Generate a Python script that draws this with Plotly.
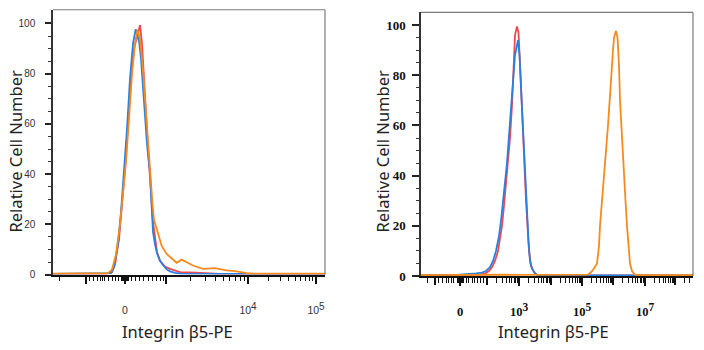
import numpy as np
import plotly.graph_objects as go

# ---------------- data (display-channel units, 0-272 across each plot) ----------------
# Left panel
L_orange_x = [0, 47, 55, 59, 63, 67, 70, 73, 76, 79, 82, 84.5, 87, 89, 90.3, 92, 93.7, 95.5, 97, 98,
              99.5, 101, 103.7, 108.7, 113.7, 118.7, 123.7, 128.7, 133.7, 140, 150, 157, 162, 173.7,
              183.7, 193.7, 202, 272]
L_orange_y = [0.4, 0.4, 0.6, 2, 8, 20, 32, 45, 62, 80, 92, 97.5, 94, 86, 80, 70, 60, 50, 44, 38,
              28, 21.8, 17.9, 11.4, 8.2, 6.6, 4.7, 5.95, 4.9, 3.6, 2.3, 2.6, 2.6, 1.7,
              1.3, 0.6, 0.4, 0.4]

L_blue_x = [0, 52, 58, 61, 65, 68, 71, 74, 77, 80, 82.7, 84.5, 86, 88, 90, 92, 94, 96, 97, 98, 99, 100,
            102, 104, 107, 110.3, 114, 117, 122, 127, 137, 272]
L_blue_y = [0.3, 0.3, 0.6, 3, 12, 25, 40, 58, 78, 92, 97.7, 95, 93, 86, 74, 62, 52, 44, 41, 32, 22, 17,
            12, 8.5, 5.5, 3.6, 2, 1.3, 0.7, 0.4, 0.3, 0.3]

L_red_x = [0, 53, 59, 62, 66, 69, 72, 75, 78, 81, 84, 87, 89, 91, 93, 95, 97, 98.5, 100, 102, 104, 107,
           112, 117, 122, 127, 137, 147, 154, 167, 272]
L_red_y = [0.3, 0.3, 0.9, 4, 14, 27, 42, 60, 78, 90, 95, 99.3, 92, 80, 64, 50, 40, 30, 21, 14, 9, 5.5,
           3.2, 2.3, 1.6, 1.0, 0.85, 0.7, 0.4, 0.3, 0.3]

# Right panel
R_orange_x = [0, 164, 167, 170, 173, 176, 178, 179, 181, 184, 186, 187, 189, 190, 192, 193, 195, 196.5,
              198, 199, 200, 202, 203, 204.5, 206, 207.5, 209, 211, 214, 219, 272]
R_orange_y = [0.4, 0.4, 0.6, 1.5, 3, 5, 12, 20, 30, 42, 52, 60, 72, 80, 90, 95, 97.7, 95,
              84, 70, 62, 45, 40, 30, 20, 11, 5, 2, 0.5, 0.4, 0.4]

R_red_x = [0, 49, 54, 59, 64, 68, 71, 74, 77, 79, 81, 83, 85, 87, 89, 91, 92.5, 94, 96, 97.5, 99, 100.5,
           102, 103.5, 105, 106.5, 108, 110, 113, 116, 272]
R_red_y = [0.3, 0.3, 0.4, 0.6, 1, 2, 3.5, 6, 10, 15, 20, 28, 36, 45, 55, 68, 82, 96, 99.5, 97, 85, 70,
           55, 42, 30, 20, 10, 4, 1.5, 0.4, 0.3]

R_blue_x = [0, 34, 37, 39, 49, 55, 61, 65, 69, 72, 75, 78, 80, 82, 84, 86, 88, 90, 92, 94, 97, 98.5, 100,
            101.5, 103, 104.5, 106, 107.5, 109, 111, 114, 117, 272]
R_blue_y = [0.25, 0.25, 0.45, 0.6, 0.8, 1.1, 1.4, 2, 3.5, 6, 10, 16, 22, 29, 37, 45, 56, 66, 78, 88, 94,
            88, 75, 62, 48, 36, 24, 14, 6, 3, 1, 0.3, 0.25]

# Tick positions / labels (display-channel units)
L_labeled = [72, 195, 263]
L_labels = ["0", "10<sup>4</sup>", "10<sup>5</sup>"]
L_unlabeled_major = [33, 113]
L_decades = [113, 195, 263]
L_minor_near0 = [6, 36, 40, 44, 47, 49, 51, 55, 59, 62, 65, 68, 69, 70, 71, 73, 74, 75,
                 78, 82, 86, 90, 95, 99, 103, 107, 110]

R_labeled = [39, 98, 161, 224]
R_labels = ["0", "10<sup>3</sup>", "10<sup>5</sup>", "10<sup>7</sup>"]
R_unlabeled_major = [14, 66, 130, 192, 254]
R_decades = [66, 98, 130, 161, 192, 224, 254, 285]
R_minor_near0 = [6, 17, 21, 25, 27, 30, 32, 36, 37, 38, 40, 41, 42, 45, 47, 51, 53, 56, 59, 62]

y_major = [0, 20, 40, 60, 80, 100]
y_major_text = ["0", "20", "40", "60", "80", "100"]

RED = "#ec4a4f"
BLUE = "#2a7fdf"
ORANGE = "#f68a1f"


def log_minors(decades, upper):
    out = []
    for a, b in zip(decades[:-1], decades[1:]):
        w = b - a
        for k in range(2, 10):
            p = a + w * np.log10(k)
            if p < upper:
                out.append(float(p))
    return out


def sup_big(labels, size):
    # keep superscript digits nearly full size, as in the reference
    return [t.replace("<sup>", f'<sup><span style="font-size:{size}px">').replace("</sup>", "</span></sup>")
            for t in labels]


L_minor = L_minor_near0 + log_minors(L_decades, 272)
R_minor = R_minor_near0 + log_minors(R_decades, 272)

fig = go.Figure()
for x, y, c in [(L_red_x, L_red_y, RED), (L_blue_x, L_blue_y, BLUE), (L_orange_x, L_orange_y, ORANGE)]:
    fig.add_trace(go.Scatter(x=x, y=y, mode="lines", line=dict(color=c, width=1.8),
                             xaxis="x", yaxis="y", showlegend=False, hoverinfo="skip"))
for x, y, c in [(R_red_x, R_red_y, RED), (R_blue_x, R_blue_y, BLUE), (R_orange_x, R_orange_y, ORANGE)]:
    fig.add_trace(go.Scatter(x=x, y=y, mode="lines", line=dict(color=c, width=1.8),
                             xaxis="x2", yaxis="y2", showlegend=False, hoverinfo="skip"))
# empty traces so the overlay axes (unlabeled major ticks) are drawn
fig.add_trace(go.Scatter(x=[None], y=[None], xaxis="x3", yaxis="y", showlegend=False, hoverinfo="skip"))
fig.add_trace(go.Scatter(x=[None], y=[None], xaxis="x4", yaxis="y2", showlegend=False, hoverinfo="skip"))

W, H = 704, 350


def xaxis_cfg(dom, major, text, minor, font, standoff):
    return dict(domain=dom, range=[0, 272], showgrid=False, zeroline=False,
                showline=True, linecolor="#111", linewidth=1.5, layer="below traces",
                tickmode="array", tickvals=major, ticktext=text,
                ticks="outside", ticklen=8, tickwidth=1.6, tickcolor="#111",
                tickfont=font, ticklabelstandoff=standoff,
                minor=dict(tickmode="array", tickvals=minor, ticks="outside", ticklen=5,
                           tickwidth=1.2, tickcolor="#111", showgrid=False),
                fixedrange=True)


def overlay_cfg(dom, major, over, anchor):
    return dict(domain=dom, range=[0, 272], overlaying=over, anchor=anchor, side="bottom",
                showgrid=False, zeroline=False, showline=False, layer="below traces",
                tickmode="array", tickvals=major, showticklabels=False,
                ticks="outside", ticklen=8, tickwidth=1.6, tickcolor="#111", fixedrange=True)


def yaxis_cfg(dom, rng, anchor, font, standoff, ticklen):
    return dict(domain=dom, range=rng, anchor=anchor, showgrid=False, zeroline=False,
                showline=True, linecolor="#333", linewidth=1.5, layer="below traces",
                tickmode="array", tickvals=y_major, ticktext=y_major_text,
                ticks="outside", ticklen=ticklen, tickwidth=1.6, tickcolor="#222",
                tickfont=font, ticklabelstandoff=standoff,
                minor=dict(tickmode="array", tickvals=list(range(5, 105, 5)), ticks="outside",
                           ticklen=3, tickwidth=1, tickcolor="#333", showgrid=False),
                fixedrange=True)


sans_font = dict(family="Liberation Sans, Arial", size=10, color="#333")
sans_xfont = dict(family="Liberation Sans, Arial", size=10.5, color="#333")
serif_font = dict(family="Liberation Serif, Times New Roman", size=13, color="#111", weight="bold")
serif_xfont = dict(family="Liberation Serif, Times New Roman", size=12.5, color="#111", weight="bold")

LX = [53 / W, 325 / W]
RX = [421 / W, 693 / W]
fig.update_layout(
    width=W, height=H, margin=dict(l=0, r=0, t=0, b=0),
    paper_bgcolor="white", plot_bgcolor="white", showlegend=False,
    xaxis=dict(**xaxis_cfg(LX, L_labeled, sup_big(L_labels, 10), L_minor, sans_xfont, 17), anchor="y"),
    yaxis=yaxis_cfg([69 / H, 340 / H], [0, 105.45], "x", sans_font, 8, 6),
    xaxis2=dict(**xaxis_cfg(RX, R_labeled, sup_big(R_labels, 11.5), R_minor, serif_xfont, 15), anchor="y2"),
    yaxis2=yaxis_cfg([67.5 / H, 337.3 / H], [0, 105.06], "x2", serif_font, 4, 7),
    xaxis3=overlay_cfg(LX, L_unlabeled_major, "x", "y"),
    xaxis4=overlay_cfg(RX, R_unlabeled_major, "x2", "y2"),
)

# frame (top and right borders)
for xr, yr in [("x domain", "y domain"), ("x2 domain", "y2 domain")]:
    fig.add_shape(type="line", xref=xr, yref=yr, x0=0, x1=1, y0=1, y1=1,
                  line=dict(color="#7a7a7a", width=1.2))
    fig.add_shape(type="line", xref=xr, yref=yr, x0=1, x1=1, y0=0, y1=1,
                  line=dict(color="#7a7a7a", width=1.2))

title_font = dict(family="Noto Sans, Open Sans, sans-serif", size=16.5, color="#222")
for (px, py, txt, ang) in [(15, 155, "Relative Cell Number", -90), (177, 339, "Integrin β5-PE", 0),
                           (382, 155, "Relative Cell Number", -90), (553, 339, "Integrin β5-PE", 0)]:
    fig.add_annotation(x=px / W, y=1 - py / H, xref="paper", yref="paper", text=txt,
                       textangle=ang, showarrow=False, font=title_font,
                       xanchor="center", yanchor="middle")

fig.write_html("out.html")
